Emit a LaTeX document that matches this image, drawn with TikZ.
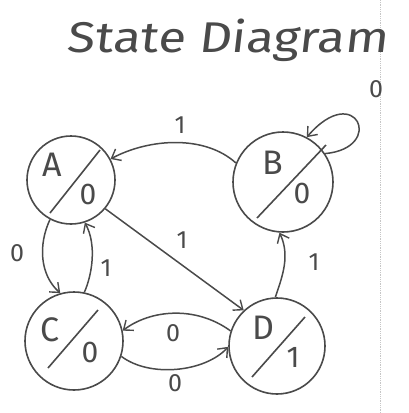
\documentclass[tikz,border=0pt]{standalone}
\usepackage{fontspec}
\setmainfont{Fira Sans}
\usetikzlibrary{arrows.meta}
\definecolor{pencil}{HTML}{4A4A4A}
\begin{document}
\begin{tikzpicture}[x=1pt,y=-1pt,
  stcirc/.style={circle, draw=pencil, line width=1.6pt, inner sep=0pt, minimum size=#1},
  arr/.style={-{Straight Barb[length=8pt,width=13pt,line width=1.4pt]}, draw=pencil, line width=1.5pt},
  diag/.style={draw=pencil, line width=1.6pt},
  stname/.style={font=\fontsize{34}{36}\selectfont, text=pencil, inner sep=0pt},
  stout/.style={font=\fontsize{30}{32}\selectfont, text=pencil, inner sep=0pt},
  lbl/.style={font=\fontsize{25}{27}\selectfont, text=pencil, inner sep=0pt}]
\useasboundingbox (0,0) rectangle (409,413);
\fill[white] (0,0) rectangle (409,413);
% faint margin line
\coordinate (mtop) at (380,0);
\coordinate (mbot) at (380,413);
\draw[gray!45, densely dotted, line width=0.8pt] (mtop) -- (mbot);
% title
\node[text=pencil, inner sep=0pt] (title) at (227,40) {\scalebox{1.18}[1]{\fontsize{43}{45}\selectfont\addfontfeatures{FakeSlant=0.1}State Diagram}};
% states
\node[stcirc=88pt] (A) at (71,180) {};
\node[stcirc=100pt] (B) at (283,182) {};
\node[stcirc=98pt] (C) at (74,341) {};
\node[stcirc=96pt] (D) at (277,346) {};
% diagonals
\draw[diag] ([shift={(-21,33)}]A.center) -- ([shift={(29,-30)}]A.center);
\draw[diag] ([shift={(-26,36)}]B.center) -- ([shift={(43,-37)}]B.center);
\draw[diag] ([shift={(-26,27)}]C.center) -- ([shift={(24,-31)}]C.center);
\draw[diag] ([shift={(-25,31)}]D.center) -- ([shift={(28,-29)}]D.center);
% names and outputs
\node[stname] (An) at ([shift={(-19,-15)}]A.center) {A};
\node[stout] (Ao) at ([shift={(17,14)}]A.center) {0};
\node[stname] (Bn) at ([shift={(-10,-19)}]B.center) {B};
\node[stout] (Bo) at ([shift={(19,11)}]B.center) {0};
\node[stname] (Cn) at ([shift={(-24,-11)}]C.center) {C};
\node[stout] (Co) at ([shift={(16,11)}]C.center) {0};
\node[stname] (Dn) at ([shift={(-14,-18)}]D.center) {D};
\node[stout] (Do) at ([shift={(16,11)}]D.center) {1};
% transitions
\draw[arr] (B.158) .. controls (205,135) and (150,138) .. (A.28);
\node[lbl] (l1) at (180,125) {1};
\draw[arr] (B.34) .. controls (386,148) and (356,80) .. (B.62);
\node[lbl] (l2) at (376,89) {0};
\draw[arr] (A.-40) -- (D.133);
\node[lbl] (l3) at (182,240) {1};
\draw[arr] (A.-118) .. controls (38,245) and (40,275) .. (C.106);
\node[lbl] (l4) at (17,253) {0};
\draw[arr] (C.78) .. controls (92,275) and (97,245) .. (A.-72);
\node[lbl] (l5) at (106,268) {1};
\draw[arr] (D.92) .. controls (283,275) and (290,255) .. (B.-94);
\node[lbl] (l6) at (314,262) {1};
\draw[arr] (D.162) .. controls (195,305) and (150,310) .. (C.12);
\node[lbl] (l7) at (173,333) {0};
\draw[arr] (C.-18) .. controls (150,378) and (205,372) .. (D.181);
\node[lbl] (l8) at (175,383) {0};
\end{tikzpicture}
\end{document}
